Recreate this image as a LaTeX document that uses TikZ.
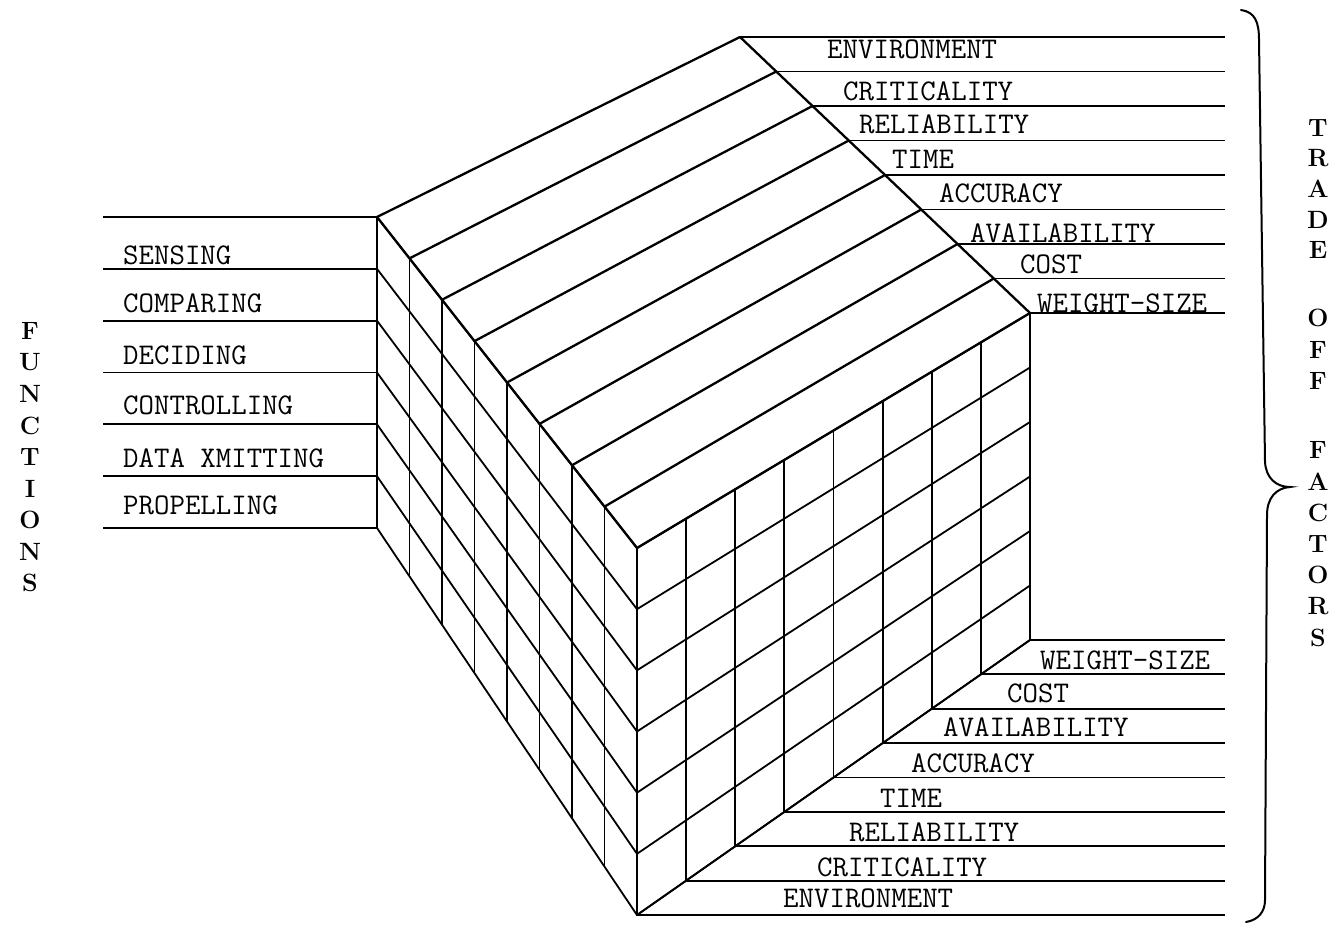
\documentclass[tikz,border=0pt]{standalone}
\usepackage{fontspec}
\usetikzlibrary{calc}
\begin{document}
\begin{tikzpicture}[x=1pt,y=-1pt,
  grid/.style={line width=1.8pt, line cap=round, line join=round},
  stripe/.style={line width=2.3pt, line cap=round},
  lead/.style={line width=1.8pt},
  lbl/.style={anchor=base west, inner sep=0pt, font=\fontsize{30}{30}\selectfont\ttfamily},
  vlet/.style={inner sep=0pt, font=\fontsize{25}{25}\selectfont\rmfamily\bfseries}]
\useasboundingbox (0,0) rectangle (1340,926);
% cube corners
\coordinate (A) at (377,217);
\coordinate (B) at (740,37);
\coordinate (C) at (1030,313);
\coordinate (D) at (637,548);
\coordinate (Ab) at (377,528);
\coordinate (Db) at (637,915);
\coordinate (Cb) at (1030,640);
\coordinate (xl) at (103,0);
\coordinate (xr) at (1225,0);
% top face stripes and face columns
\foreach \i in {0,...,8} {
  \coordinate (ad\i) at ($(A)!\i/8!(D)$);
  \coordinate (bc\i) at ($(B)!\i/8!(C)$);
  \coordinate (lb\i) at ($(Ab)!\i/8!(Db)$);
  \coordinate (dc\i) at ($(D)!\i/8!(C)$);
  \coordinate (rb\i) at ($(Db)!\i/8!(Cb)$);
  \draw[stripe] (ad\i) -- (bc\i);
  \draw[grid] (ad\i) -- (lb\i);
  \draw[grid] (dc\i) -- (rb\i);
  \draw[lead] (bc\i) -- (xr |- bc\i);
  \draw[lead] (rb\i) -- (xr |- rb\i);
}
\draw[stripe] (A) -- (D);
\draw[stripe] (B) -- (C);
% rows of left and right faces
\foreach \j in {0,...,6} {
  \coordinate (le\j) at ($(A)!\j/6!(Ab)$);
  \coordinate (de\j) at ($(D)!\j/6!(Db)$);
  \coordinate (ce\j) at ($(C)!\j/6!(Cb)$);
  \draw[grid] (le\j) -- (de\j);
  \draw[grid] (de\j) -- (ce\j);
  \draw[lead] (xl |- le\j) -- (le\j);
}
\draw[grid] (Db) -- (Cb);
% top labels
\node[lbl] (tEnv) at (827,58) {ENVIRONMENT};
\node[lbl] (tCrit) at (843,100) {CRITICALITY};
\node[lbl] (tRel) at (859,133) {RELIABILITY};
\node[lbl] (tTime) at (892,168) {TIME};
\node[lbl] (tAcc) at (939,202) {ACCURACY};
\node[lbl] (tAvail) at (970,242) {AVAILABILITY};
\node[lbl] (tCost) at (1020,273) {COST};
\node[lbl] (tWS) at (1037,312) {WEIGHT-SIZE};
% bottom labels
\node[lbl] (bEnv) at (783,907) {ENVIRONMENT};
\node[lbl] (bCrit) at (817,876) {CRITICALITY};
\node[lbl] (bRel) at (849,841) {RELIABILITY};
\node[lbl] (bTime) at (880,807) {TIME};
\node[lbl] (bAcc) at (911,772) {ACCURACY};
\node[lbl] (bAvail) at (943,736) {AVAILABILITY};
\node[lbl] (bCost) at (1007,702) {COST};
\node[lbl] (bWS) at (1040,669) {WEIGHT-SIZE};
% function labels
\node[lbl] (fSens) at (123,264) {SENSING};
\node[lbl] (fComp) at (123,312) {COMPARING};
\node[lbl] (fDec) at (123,364) {DECIDING};
\node[lbl] (fCont) at (123,414) {CONTROLLING};
\node[lbl] (fData) at (123,467) {DATA XMITTING};
\node[lbl] (fProp) at (123,514) {PROPELLING};
% brace
\draw[line width=2pt, line cap=round] (1241,10) .. controls (1255,12) and (1259,22) .. (1259,40)
  -- (1265,462) .. controls (1266,478) and (1276,487) .. (1290,487)
  .. controls (1276,488) and (1267,498) .. (1267,515)
  -- (1265,900) .. controls (1265,912) and (1258,920) .. (1246,922);
% vertical words
\foreach \l [count=\n from 0] in {F,U,N,C,T,I,O,N,S}
  \node[vlet] (fn\n) at (30,{331+31.5*\n}) {\l};
\foreach \l [count=\n from 0] in {T,R,A,D,E}
  \node[vlet] (tr\n) at (1318,{128+30.5*\n}) {\l};
\foreach \l [count=\n from 0] in {O,F,F}
  \node[vlet] (of\n) at (1318,{318+31.5*\n}) {\l};
\foreach \l [count=\n from 0] in {F,A,C,T,O,R,S}
  \node[vlet] (fa\n) at (1318,{450+31.3*\n}) {\l};
\end{tikzpicture}
\end{document}
